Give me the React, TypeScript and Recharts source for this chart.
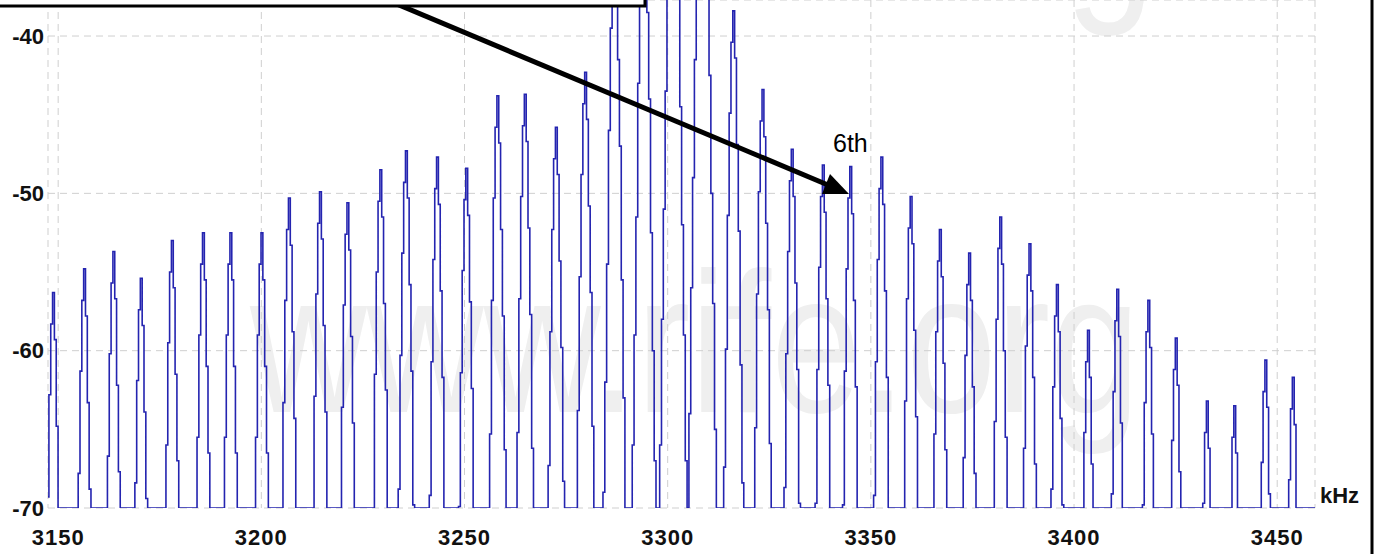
import React from "react";
import { LineChart, Line, XAxis, YAxis, CartesianGrid } from "recharts";

// Spectrum: harmonic peak centres (kHz) and their tops (dB)
const PEAK_KHZ = [
  3148.7, 3156.3, 3163.5, 3170.6, 3178.0, 3185.6, 3192.3, 3200.1, 3207.0, 3214.4,
  3221.3, 3229.2, 3235.8, 3243.5, 3250.6, 3258.0, 3265.1, 3272.7, 3279.9, 3286.8,
  3294.1, 3301.3, 3308.6, 3316.1, 3323.4, 3330.6, 3338.2, 3344.9, 3352.7, 3359.9,
  3367.0, 3374.2, 3381.8, 3389.2, 3396.1, 3403.7, 3410.6, 3418.2, 3425.3, 3432.7,
  3439.6, 3447.3, 3454.1,
];
const PEAK_DB = [
  -56.3, -54.8, -53.7, -55.4, -53.0, -52.5, -52.5, -52.5, -50.3, -49.9,
  -50.6, -48.5, -47.3, -47.7, -48.4, -43.8, -43.7, -45.8, -42.3, -33.0,
  -30.0, -22.0, -20.0, -38.4, -43.4, -47.2, -48.2, -48.3, -47.7, -50.2,
  -52.3, -53.8, -51.5, -53.2, -55.8, -58.7, -56.1, -56.8, -59.2, -63.2,
  -63.5, -60.6, -61.7,
];
// Step levels on each side of a peak (dB below the top)
const LEFT_SKIRT_DB = [-2, -6.5, -13, -21.5, -29, -36, -44, -52];
const RIGHT_SKIRT_DB = [-3, -8.5, -14, -22.5, -30, -37, -45, -53];
const FLOOR_DB = -70;
const START_KHZ = 3147.5;
const END_KHZ = 3459.8;
const STEP_KHZ = 0.45;

const X_TICKS = [3150, 3200, 3250, 3300, 3350, 3400, 3450];
const Y_TICKS = [-70, -60, -50, -40];

const buildData = () => {
  const n = Math.round((END_KHZ - START_KHZ) / STEP_KHZ) + 1;
  const vals: number[] = new Array(n).fill(FLOOR_DB);
  const put = (i: number, v: number) => {
    if (i >= 0 && i < n) vals[i] = Math.max(vals[i], Math.max(FLOOR_DB, v));
  };
  PEAK_KHZ.forEach((c, p) => {
    const i0 = Math.round((c - START_KHZ) / STEP_KHZ);
    put(i0, PEAK_DB[p]);
    LEFT_SKIRT_DB.forEach((d, k) => put(i0 - k - 1, PEAK_DB[p] + d));
    RIGHT_SKIRT_DB.forEach((d, k) => put(i0 + k + 1, PEAK_DB[p] + d));
  });
  return vals.map((v, i) => ({ f: START_KHZ + i * STEP_KHZ, v }));
};
const data = buildData();

const FONT = "'Liberation Sans', Arial, sans-serif";

const YTick = (props: any) => {
  const { y, payload } = props;
  return (
    <text x={44} y={y} textAnchor="end" dominantBaseline="central" fontFamily={FONT}
      fontWeight="bold" fontSize={22} fill="#111">{payload.value}</text>
  );
};
const XTick = (props: any) => {
  const { x, payload } = props;
  return (
    <text x={x} y={537} textAnchor="middle" dominantBaseline="central" fontFamily={FONT}
      fontWeight="bold" fontSize={22} letterSpacing={1} fill="#111">{payload.value}</text>
  );
};

export default function App() {
  const W = 1380, H = 554;
  return (
    <div style={{ position: "absolute", left: 0, top: 0, width: W, height: H, background: "#fff", overflow: "hidden" }}>
      <svg width={W} height={H} style={{ position: "absolute", left: 0, top: 0 }}>
        <text x={250} y={412} fontFamily={FONT} fontSize={200} fill="#efefef"
          textLength={890} lengthAdjust="spacingAndGlyphs">www.rife.org</text>
        <text x={265} y={-6} fontFamily={FONT} fontSize={200} fill="#efefef"
          textLength={890} lengthAdjust="spacingAndGlyphs">www.rife.org</text>
      </svg>
      <div style={{ position: "absolute", left: 0, top: 0 }}>
        <LineChart width={W} height={H} data={data} margin={{ top: 0, right: 65, left: 0, bottom: 0 }}>
          <CartesianGrid stroke="#cfcfcf" strokeDasharray="7 5" />
          <XAxis dataKey="f" type="number" domain={[3147.5, 3459.3]} ticks={X_TICKS}
            allowDataOverflow height={46} axisLine={false} tickLine={false} tick={<XTick />} interval={0} />
          <YAxis type="number" domain={[-70, -37.71]} ticks={Y_TICKS} allowDataOverflow
            width={48} axisLine={false} tickLine={false} tick={<YTick />} interval={0} />
          <Line type="step" dataKey="v" stroke="#2424b0" strokeWidth={1.6} dot={false}
            isAnimationActive={false} />
        </LineChart>
      </div>
      <svg width={W} height={H} style={{ position: "absolute", left: 0, top: 0 }}>
        <line x1={380} y1={-3} x2={828} y2={185} stroke="#000" strokeWidth={5} />
        <polygon points="849,194 822,194 830,174" fill="#000" />
        <rect x={-5} y={-5} width={650} height={11} fill="#fff" stroke="#000" strokeWidth={3} />
        <line x1={1372} y1={0} x2={1372} y2={H} stroke="#000" strokeWidth={3} />
        <text x={833} y={152} fontFamily={FONT} fontSize={25} fill="#000">6th</text>
        <text x={1320} y={503} fontFamily={FONT} fontSize={22} fontWeight="bold" fill="#111">kHz</text>
      </svg>
    </div>
  );
}
